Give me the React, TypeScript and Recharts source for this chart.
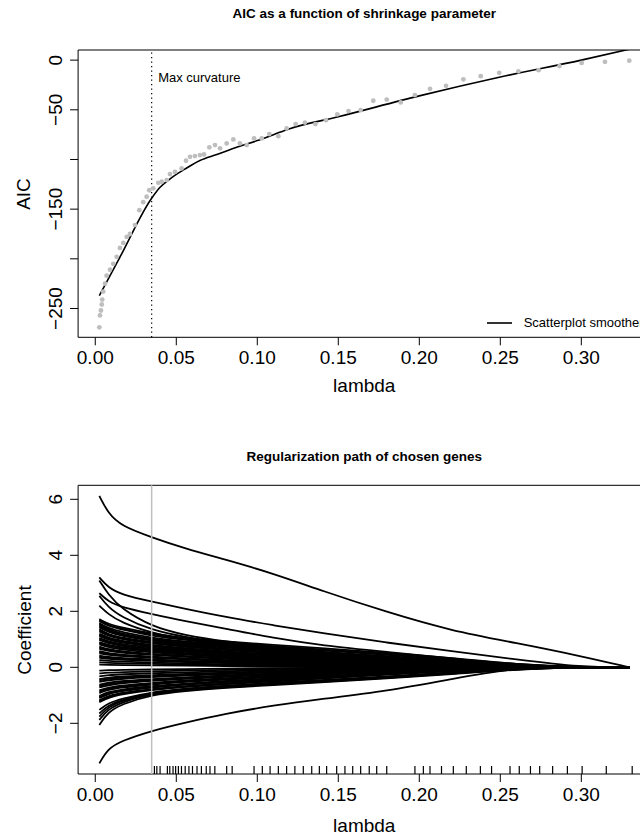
import React from 'react';
import {
  ComposedChart,
  Line,
  Scatter,
  XAxis,
  YAxis,
  ReferenceLine,
  ReferenceArea,
  Legend,
} from 'recharts';

const FONT = '"Liberation Sans", Arial, Helvetica, sans-serif';

// AIC panel: grey points
const aicLambda = [
  0.0025, 0.0029, 0.0035, 0.004, 0.0043, 0.0049, 0.006, 0.007, 0.0091, 0.0111,
  0.0132, 0.0152, 0.0173, 0.0194, 0.0214, 0.0245, 0.0272, 0.0296, 0.0317, 0.0333,
  0.0358, 0.0389, 0.041, 0.0441, 0.0461, 0.0492, 0.0533, 0.056, 0.0585, 0.0615,
  0.0646, 0.0671, 0.0704, 0.0739, 0.077, 0.0811, 0.0852, 0.0893, 0.0935, 0.098,
  0.1027, 0.1074, 0.113, 0.1181, 0.1237, 0.1294, 0.1359, 0.1424, 0.1494, 0.1563,
  0.1638, 0.1716, 0.1799, 0.1885, 0.1973, 0.2066, 0.2165, 0.2272, 0.2379, 0.2493,
  0.2612, 0.2736, 0.2865, 0.3002, 0.3146, 0.3296,
];
const aicValue = [
  -269, -257, -252, -246, -241, -233, -225, -217, -211, -205,
  -198, -189, -184, -178, -175, -166, -151, -143, -137.5, -131,
  -129, -123.5, -122.4, -120.7, -114.7, -112.5, -109, -101.3, -97.3, -96.6,
  -95.6, -95, -87.8, -85.5, -88.8, -83.8, -79.8, -83.8, -85.5, -78.8,
  -78.8, -74.4, -76.5, -68.7, -64.4, -62.9, -64.4, -60.4, -54.6, -51.3,
  -50.3, -40.9, -39.7, -42.6, -35.2, -28.9, -25.9, -19.3, -16.1, -12.8,
  -11.3, -10.1, -6, -2.8, -1.7, -0.5,
];

// AIC panel: smoother
const smoothLambda = [0.0025, 0.015, 0.0348, 0.04, 0.045, 0.05, 0.055, 0.0646, 0.075, 0.085, 0.1, 0.11, 0.12, 0.15, 0.2, 0.25, 0.3, 0.3296];
const smoothAic = [-237, -199, -139, -128, -121, -115, -110, -101, -95, -89, -81, -75, -69, -57, -36, -17, 0, 11];

const maxCurvature = 0.0348;

// regularization path, coefficient per gene at each lambda
const pathLambda = [0.0025, 0.008, 0.016, 0.035, 0.055, 0.08, 0.11, 0.14, 0.18, 0.22, 0.26, 0.3, 0.3296];

const leadGenes = [
  [6.12, 5.5, 5.05, 4.64, 4.25, 3.85, 3.35, 2.73, 1.97, 1.3, 0.87, 0.4, 0],
  [3.21, 2.85, 2.6, 2.34, 2.1, 1.8, 1.5, 1.22, 0.88, 0.58, 0.28, 0, 0],
  [3.1, 2.6, 2.1, 1.45, 1.15, 0.92, 0.72, 0.55, 0.35, 0.17, 0.03, 0, 0],
  [2.65, 2.35, 2.15, 1.9, 1.65, 1.38, 1.05, 0.78, 0.55, 0.32, 0.1, 0, 0],
  [2.55, 2.15, 1.8, 1.32, 1.08, 0.86, 0.68, 0.5, 0.3, 0.12, 0, 0, 0],
  [2.2, 1.9, 1.6, 1.22, 1.0, 0.8, 0.62, 0.45, 0.25, 0.08, 0, 0, 0],
  [-3.43, -2.9, -2.63, -2.26, -1.98, -1.66, -1.36, -1.13, -0.85, -0.42, 0, 0, 0],
];

const upperBand = [
  [1.72, 1.55, 1.42, 1.2, 1.05, 0.92, 0.8, 0.68, 0.52, 0.34, 0.1, 0, 0],
  [1.65, 1.48, 1.35, 1.12, 0.98, 0.85, 0.72, 0.6, 0.45, 0.28, 0.07, 0, 0],
  [1.58, 1.4, 1.26, 1.05, 0.92, 0.8, 0.67, 0.55, 0.4, 0.24, 0.05, 0, 0],
  [1.5, 1.3, 1.16, 0.98, 0.86, 0.74, 0.62, 0.5, 0.36, 0.2, 0.04, 0, 0],
  [1.42, 1.26, 1.12, 0.95, 0.82, 0.7, 0.58, 0.46, 0.32, 0.17, 0.03, 0, 0],
  [1.36, 1.18, 1.05, 0.9, 0.78, 0.66, 0.54, 0.42, 0.29, 0.15, 0.02, 0, 0],
  [1.28, 1.12, 1.0, 0.85, 0.73, 0.62, 0.5, 0.39, 0.26, 0.13, 0.01, 0, 0],
  [1.2, 1.05, 0.94, 0.8, 0.68, 0.57, 0.46, 0.35, 0.23, 0.11, 0, 0, 0],
  [1.12, 0.98, 0.88, 0.74, 0.63, 0.53, 0.42, 0.32, 0.2, 0.09, 0, 0, 0],
  [1.05, 0.92, 0.82, 0.7, 0.6, 0.5, 0.39, 0.29, 0.18, 0.07, 0, 0, 0],
  [0.98, 0.86, 0.76, 0.64, 0.55, 0.45, 0.35, 0.26, 0.16, 0.06, 0, 0, 0],
  [0.9, 0.8, 0.72, 0.6, 0.51, 0.42, 0.32, 0.23, 0.14, 0.05, 0, 0, 0],
  [0.82, 0.72, 0.64, 0.53, 0.45, 0.37, 0.28, 0.2, 0.12, 0.04, 0, 0, 0],
  [0.74, 0.64, 0.57, 0.47, 0.4, 0.33, 0.25, 0.18, 0.1, 0.03, 0, 0, 0],
  [0.66, 0.58, 0.52, 0.44, 0.37, 0.3, 0.22, 0.15, 0.08, 0.02, 0, 0, 0],
  [0.58, 0.5, 0.45, 0.38, 0.32, 0.26, 0.19, 0.13, 0.06, 0.01, 0, 0, 0],
  [0.5, 0.44, 0.4, 0.34, 0.28, 0.22, 0.16, 0.1, 0.04, 0, 0, 0, 0],
  [0.42, 0.37, 0.33, 0.28, 0.23, 0.18, 0.13, 0.08, 0.03, 0, 0, 0, 0],
  [0.34, 0.3, 0.27, 0.23, 0.19, 0.15, 0.1, 0.06, 0.02, 0, 0, 0, 0],
  [0.26, 0.23, 0.2, 0.17, 0.14, 0.11, 0.07, 0.04, 0.01, 0, 0, 0, 0],
  [0.18, 0.16, 0.14, 0.12, 0.1, 0.08, 0.05, 0.02, 0, 0, 0, 0, 0],
  [0.1, 0.09, 0.08, 0.07, 0.06, 0.04, 0.02, 0.01, 0, 0, 0, 0, 0],
];

const extraBand = [
  [1.68, 1.5, 1.38, 1.16, 1.02, 0.88, 0.76, 0.64, 0.48, 0.31, 0.08, 0, 0],
  [1.54, 1.35, 1.2, 1.01, 0.89, 0.77, 0.64, 0.52, 0.38, 0.22, 0.05, 0, 0],
  [1.46, 1.28, 1.14, 0.96, 0.84, 0.72, 0.6, 0.48, 0.34, 0.19, 0.03, 0, 0],
  [1.32, 1.15, 1.02, 0.87, 0.75, 0.64, 0.52, 0.4, 0.27, 0.14, 0.01, 0, 0],
  [1.16, 1.01, 0.91, 0.77, 0.66, 0.55, 0.44, 0.33, 0.21, 0.1, 0, 0, 0],
  [1.0, 0.88, 0.78, 0.66, 0.57, 0.47, 0.37, 0.27, 0.17, 0.07, 0, 0, 0],
  [0.86, 0.76, 0.68, 0.57, 0.48, 0.4, 0.3, 0.22, 0.13, 0.05, 0, 0, 0],
  [0.7, 0.61, 0.55, 0.46, 0.39, 0.32, 0.24, 0.17, 0.09, 0.03, 0, 0, 0],
  [0.54, 0.47, 0.42, 0.36, 0.3, 0.24, 0.18, 0.12, 0.05, 0.01, 0, 0, 0],
  [0.38, 0.33, 0.3, 0.26, 0.21, 0.17, 0.12, 0.07, 0.03, 0, 0, 0, 0],
  [-0.47, -0.41, -0.37, -0.31, -0.27, -0.22, -0.16, -0.11, -0.06, -0.02, 0, 0, 0],
  [-0.67, -0.6, -0.53, -0.45, -0.38, -0.31, -0.24, -0.17, -0.1, -0.03, 0, 0, 0],
  [-0.87, -0.76, -0.68, -0.58, -0.5, -0.41, -0.32, -0.24, -0.14, -0.05, 0, 0, 0],
  [-1.06, -0.92, -0.82, -0.7, -0.6, -0.51, -0.41, -0.31, -0.18, -0.08, 0, 0, 0],
  [-1.21, -1.05, -0.93, -0.79, -0.69, -0.59, -0.49, -0.39, -0.25, -0.12, -0.01, 0, 0],
];

const lowerBand = [
  [-0.12, -0.1, -0.09, -0.08, -0.06, -0.05, -0.03, -0.02, 0, 0, 0, 0, 0],
  [-0.22, -0.19, -0.17, -0.14, -0.12, -0.09, -0.06, -0.04, -0.01, 0, 0, 0, 0],
  [-0.32, -0.28, -0.25, -0.21, -0.18, -0.14, -0.1, -0.06, -0.03, 0, 0, 0, 0],
  [-0.42, -0.37, -0.33, -0.28, -0.24, -0.19, -0.14, -0.09, -0.05, -0.01, 0, 0, 0],
  [-0.52, -0.46, -0.41, -0.35, -0.3, -0.24, -0.18, -0.12, -0.07, -0.02, 0, 0, 0],
  [-0.62, -0.55, -0.49, -0.42, -0.36, -0.29, -0.22, -0.16, -0.09, -0.03, 0, 0, 0],
  [-0.72, -0.64, -0.57, -0.48, -0.41, -0.34, -0.26, -0.19, -0.11, -0.04, 0, 0, 0],
  [-0.82, -0.72, -0.65, -0.55, -0.47, -0.39, -0.3, -0.22, -0.13, -0.05, 0, 0, 0],
  [-0.92, -0.8, -0.72, -0.61, -0.52, -0.44, -0.35, -0.26, -0.15, -0.06, 0, 0, 0],
  [-1.02, -0.88, -0.79, -0.67, -0.58, -0.49, -0.39, -0.29, -0.17, -0.07, 0, 0, 0],
  [-1.1, -0.95, -0.85, -0.72, -0.62, -0.53, -0.43, -0.33, -0.2, -0.09, 0, 0, 0],
  [-1.18, -1.02, -0.91, -0.77, -0.67, -0.57, -0.47, -0.37, -0.23, -0.11, -0.01, 0, 0],
  [-1.25, -1.08, -0.96, -0.81, -0.7, -0.6, -0.5, -0.4, -0.26, -0.13, -0.02, 0, 0],
];

const lowerTail = [
  [-1.52, -1.28, -1.12, -0.88, -0.76, -0.65, -0.55, -0.46, -0.33, -0.18, -0.03, 0, 0],
  [-1.65, -1.36, -1.16, -0.9, -0.78, -0.67, -0.57, -0.48, -0.35, -0.2, -0.04, 0, 0],
  [-1.76, -1.42, -1.2, -0.93, -0.8, -0.69, -0.59, -0.5, -0.37, -0.22, -0.05, 0, 0],
  [-1.88, -1.5, -1.25, -0.95, -0.82, -0.71, -0.61, -0.52, -0.38, -0.23, -0.06, 0, 0],
  [-2.06, -1.6, -1.32, -0.98, -0.85, -0.73, -0.63, -0.54, -0.4, -0.25, -0.07, 0, 0],
];

// rug marks along the lower axis
const rugLambda = [
  0.0365, 0.038, 0.04, 0.0445, 0.046, 0.048, 0.0496, 0.0513, 0.0532, 0.0555,
  0.0578, 0.06, 0.0628, 0.0655, 0.0685, 0.0708, 0.0738, 0.0811, 0.0845, 0.098,
  0.1031, 0.1079, 0.113, 0.1181, 0.1232, 0.1284, 0.1336, 0.1383, 0.1428, 0.149,
  0.1541, 0.1589, 0.1638, 0.1691, 0.1737, 0.1799, 0.1973, 0.2025, 0.2066, 0.2137,
  0.221, 0.229, 0.2377, 0.2446, 0.256, 0.2617, 0.2686, 0.2743, 0.2823, 0.2914,
  0.3005, 0.3154, 0.3314,
];

const xTicks = [0, 0.05, 0.1, 0.15, 0.2, 0.25, 0.3];
const aicTicks = [-250, -200, -150, -100, -50, 0];
const aicLabelled = [-250, -150, -50, 0];
const coefTicks = [-2, 0, 2, 4, 6];

const X_DOMAIN: [number, number] = [-0.0106, 0.3427];
const AIC_DOMAIN: [number, number] = [-279, 10.2];
const COEF_DOMAIN: [number, number] = [-3.81, 6.5];

const aicPoints = aicLambda.map((lambda, i) => ({ lambda, aic: aicValue[i] }));
const smoothPoints = smoothLambda.map((lambda, i) => ({ lambda, aic: smoothAic[i] }));
const genes = [...leadGenes, ...upperBand, ...extraBand, ...lowerBand, ...lowerTail];
const pathRows = pathLambda.map((lambda, i) => {
  const row: Record<string, number> = { lambda };
  genes.forEach((g, j) => {
    row['g' + j] = g[i];
  });
  return row;
});
const rugPoints = rugLambda.map((lambda) => ({ lambda, coef: COEF_DOMAIN[0] }));

// layout
const CHART_W = 660;
const PLOT_LEFT = 78.1;
const Y_AXIS_W = 60;
const RIGHT = 9.5;
const TOP_H = 420;
const TOP_PLOT_TOP = 50;
const TOP_PLOT_BOTTOM = 337.3;
const BOT_OFFSET = 420;
const BOT_H = 417;
const BOT_PLOT_TOP = 65.3;
const BOT_PLOT_BOTTOM = 354;

const minus = (v: number) => (v < 0 ? '\u2212' + Math.abs(v) : String(v));

const makeXTick = (plotBottom: number) => (props: any) => {
  const { x, payload } = props;
  return (
    <g>
      <line x1={x} x2={x} y1={plotBottom} y2={plotBottom + 8} stroke="#000" strokeWidth={1} />
      <text x={x} y={plotBottom + 27} textAnchor="middle" fontFamily={FONT} fontSize={19} fill="#000">
        {Number(payload.value).toFixed(2)}
      </text>
    </g>
  );
};

const makeYTick = (labelled: number[] | null) => (props: any) => {
  const { y, payload } = props;
  const bx = PLOT_LEFT - 16.5;
  const show = labelled ? labelled.includes(payload.value) : true;
  return (
    <g>
      <line x1={PLOT_LEFT - 8} x2={PLOT_LEFT} y1={y} y2={y} stroke="#000" strokeWidth={1} />
      {show && (
        <text
          x={bx}
          y={y}
          transform={`rotate(-90 ${bx} ${y})`}
          textAnchor="middle"
          fontFamily={FONT}
          fontSize={19}
          fill="#000"
        >
          {minus(payload.value)}
        </text>
      )}
    </g>
  );
};

const Text = ({ cx, cy, size, bold, vertical, children }: any) => (
  <div
    style={{
      position: 'absolute',
      left: cx,
      top: cy,
      transform: `translate(-50%, -50%)${vertical ? ' rotate(-90deg)' : ''}`,
      fontFamily: FONT,
      fontSize: size,
      fontWeight: bold ? 700 : 400,
      lineHeight: 1,
      whiteSpace: 'nowrap',
      color: '#000',
    }}
  >
    {children}
  </div>
);

const SmootherLegend = () => (
  <div style={{ display: 'flex', alignItems: 'center', fontFamily: FONT, fontSize: 13, whiteSpace: 'nowrap' }}>
    <svg width={26} height={20} style={{ display: 'block' }}>
      <line x1={0} x2={25} y1={10} y2={10} stroke="#000" strokeWidth={1.6} />
    </svg>
    <span style={{ marginLeft: 11 }}>Scatterplot smoother</span>
  </div>
);

const CurvatureLabel = (props: any) => {
  const vb = props.viewBox || {};
  return (
    <text x={vb.x + 6.5} y={vb.y + 31.5} fontFamily={FONT} fontSize={13} fill="#000">
      Max curvature
    </text>
  );
};

export default function App() {
  const centerX = PLOT_LEFT + (X_DOMAIN[1] - X_DOMAIN[0]) * 1620 / 2;
  return (
    <div
      style={{
        position: 'absolute',
        left: 0,
        top: 0,
        width: 640,
        height: 837,
        overflow: 'hidden',
        background: '#fff',
      }}
    >
      <div style={{ position: 'absolute', left: 0, top: 0 }}>
        <ComposedChart
          width={CHART_W}
          height={TOP_H}
          margin={{ top: TOP_PLOT_TOP, right: RIGHT, bottom: TOP_H - TOP_PLOT_BOTTOM - 40, left: PLOT_LEFT - Y_AXIS_W }}
        >
          <XAxis
            type="number"
            dataKey="lambda"
            domain={X_DOMAIN}
            ticks={xTicks}
            interval={0}
            allowDataOverflow
            height={40}
            axisLine={false}
            tickLine={false}
            tick={makeXTick(TOP_PLOT_BOTTOM)}
          />
          <YAxis
            type="number"
            domain={AIC_DOMAIN}
            ticks={aicTicks}
            interval={0}
            allowDataOverflow
            width={Y_AXIS_W}
            axisLine={false}
            tickLine={false}
            tick={makeYTick(aicLabelled)}
          />
          <ReferenceArea
            x1={X_DOMAIN[0]}
            x2={X_DOMAIN[1]}
            y1={AIC_DOMAIN[0]}
            y2={AIC_DOMAIN[1]}
            fill="none"
            fillOpacity={0}
            stroke="#000"
            strokeWidth={1}
          />
          <Scatter
            data={aicPoints}
            dataKey="aic"
            isAnimationActive={false}
            shape={(p: any) => <circle cx={p.cx} cy={p.cy} r={2.4} fill="#bebebe" />}
          />
          <Line
            data={smoothPoints}
            dataKey="aic"
            type="monotone"
            stroke="#000"
            strokeWidth={1.6}
            dot={false}
            isAnimationActive={false}
          />
          <ReferenceLine
            x={maxCurvature}
            stroke="#000"
            strokeWidth={1.2}
            strokeDasharray="1.2 3.3"
            label={<CurvatureLabel />}
          />
          <Legend
            verticalAlign="middle"
            align="center"
            layout="horizontal"
            wrapperStyle={{ left: 486.7, top: 312.7, width: 'auto' }}
            content={() => <SmootherLegend />}
          />
        </ComposedChart>
      </div>

      <div style={{ position: 'absolute', left: 0, top: BOT_OFFSET }}>
        <ComposedChart
          width={CHART_W}
          height={BOT_H}
          data={pathRows}
          margin={{ top: BOT_PLOT_TOP, right: RIGHT, bottom: BOT_H - BOT_PLOT_BOTTOM - 40, left: PLOT_LEFT - Y_AXIS_W }}
        >
          <XAxis
            type="number"
            dataKey="lambda"
            domain={X_DOMAIN}
            ticks={xTicks}
            interval={0}
            allowDataOverflow
            height={40}
            axisLine={false}
            tickLine={false}
            tick={makeXTick(BOT_PLOT_BOTTOM)}
          />
          <YAxis
            type="number"
            domain={COEF_DOMAIN}
            ticks={coefTicks}
            interval={0}
            allowDataOverflow
            width={Y_AXIS_W}
            axisLine={false}
            tickLine={false}
            tick={makeYTick(null)}
          />
          <ReferenceArea
            x1={X_DOMAIN[0]}
            x2={X_DOMAIN[1]}
            y1={COEF_DOMAIN[0]}
            y2={COEF_DOMAIN[1]}
            fill="none"
            fillOpacity={0}
            stroke="#000"
            strokeWidth={1}
          />
          {genes.map((_, j) => (
            <Line
              key={'g' + j}
              dataKey={'g' + j}
              type="basis"
              stroke="#000"
              strokeWidth={1.8}
              dot={false}
              isAnimationActive={false}
            />
          ))}
          <ReferenceLine x={maxCurvature} stroke="#bebebe" strokeWidth={1.5} />
          <Scatter
            data={rugPoints}
            dataKey="coef"
            isAnimationActive={false}
            shape={(p: any) => (
              <line x1={p.cx} x2={p.cx} y1={p.cy} y2={p.cy - 8} stroke="#000" strokeWidth={1.2} />
            )}
          />
        </ComposedChart>
      </div>

      <Text cx={centerX} cy={14} size={13.5} bold>
        AIC as a function of shrinkage parameter
      </Text>
      <Text cx={centerX} cy={385} size={19}>
        lambda
      </Text>
      <Text cx={23.3} cy={(TOP_PLOT_TOP + TOP_PLOT_BOTTOM) / 2} size={19} vertical>
        AIC
      </Text>
      <Text cx={centerX} cy={457} size={13.5} bold>
        Regularization path of chosen genes
      </Text>
      <Text cx={centerX} cy={825} size={19}>
        lambda
      </Text>
      <Text cx={24} cy={BOT_OFFSET + (BOT_PLOT_TOP + BOT_PLOT_BOTTOM) / 2} size={19} vertical>
        Coefficient
      </Text>
    </div>
  );
}
